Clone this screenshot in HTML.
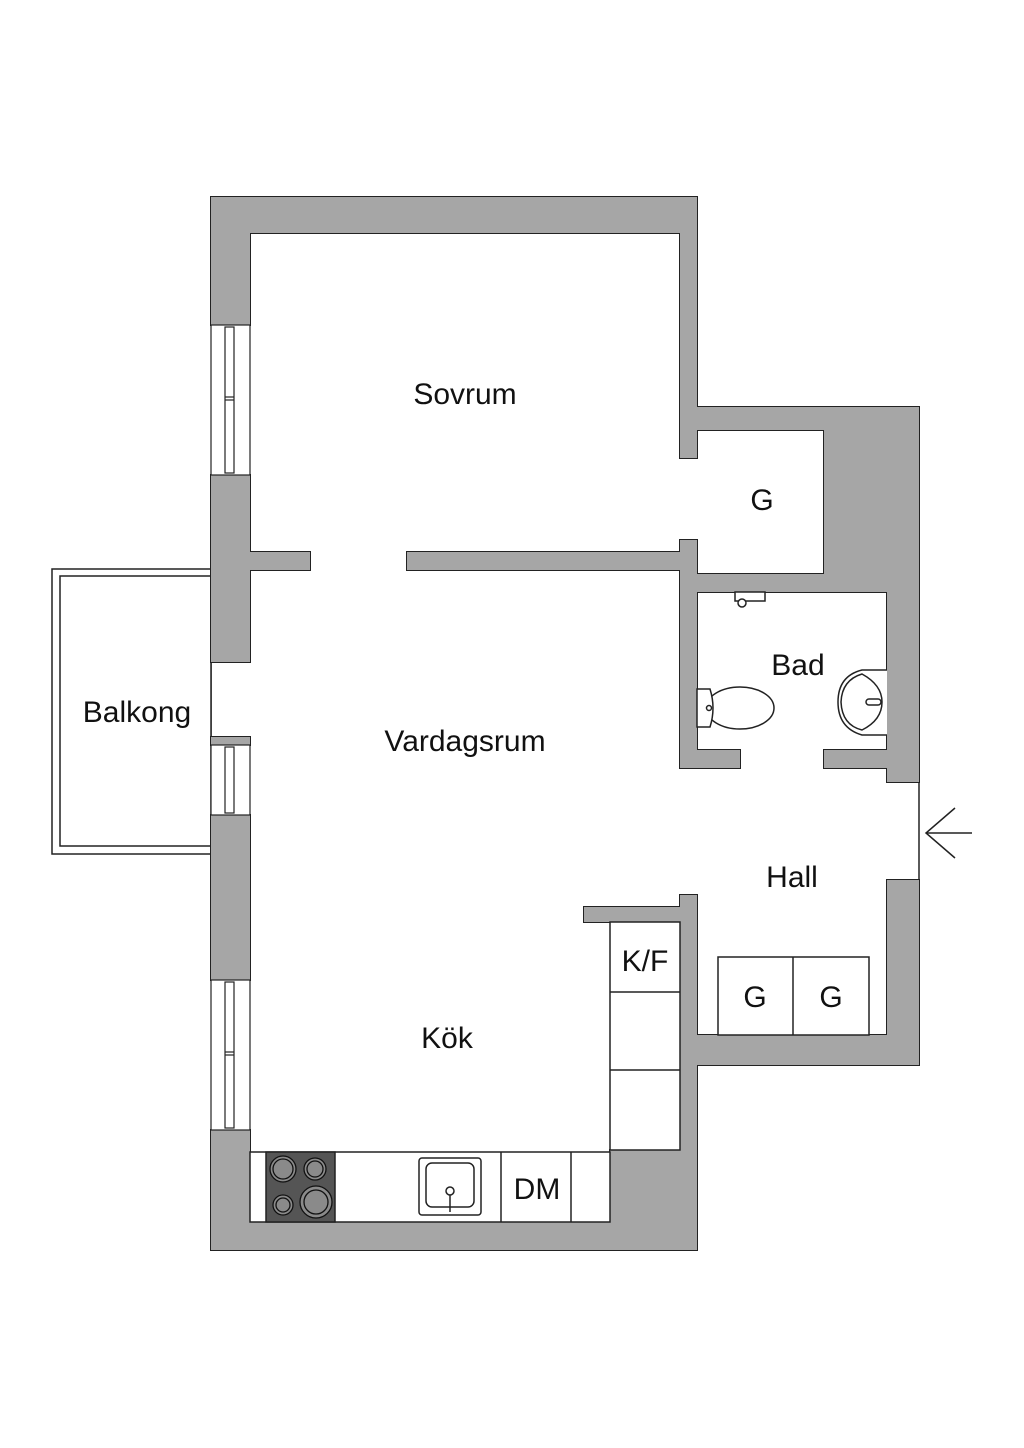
<!DOCTYPE html>
<html><head><meta charset="utf-8"><style>
html,body{margin:0;padding:0;background:#fff;}
svg{display:block;}
text{font-family:"Liberation Sans",sans-serif;font-size:30px;fill:#111;text-anchor:middle;}
</style></head><body>
<svg width="1024" height="1448" viewBox="0 0 1024 1448" xmlns="http://www.w3.org/2000/svg">
<rect width="1024" height="1448" fill="#fff"/>
<rect x="52" y="569" width="159" height="285" fill="#fff" stroke="#222" stroke-width="1.5"/>
<rect x="60" y="576" width="151" height="270" fill="#fff" stroke="#222" stroke-width="1.5"/>
<g id="walls">
<rect x="211" y="197" width="486" height="36"/>
<rect x="211" y="197" width="39" height="128"/>
<rect x="211" y="475" width="39" height="187"/>
<rect x="211" y="737" width="39" height="8"/>
<rect x="211" y="815" width="39" height="165"/>
<rect x="211" y="1130" width="39" height="120"/>
<rect x="250" y="552" width="60" height="18"/>
<rect x="407" y="552" width="273" height="18"/>
<rect x="680" y="197" width="17" height="261"/>
<rect x="680" y="407" width="239" height="23"/>
<rect x="824" y="407" width="95" height="185"/>
<rect x="887" y="407" width="32" height="375"/>
<rect x="680" y="574" width="207" height="18"/>
<rect x="680" y="540" width="17" height="228"/>
<rect x="680" y="750" width="60" height="18"/>
<rect x="824" y="750" width="95" height="18"/>
<rect x="887" y="880" width="32" height="185"/>
<rect x="680" y="1035" width="239" height="30"/>
<rect x="680" y="895" width="17" height="355"/>
<rect x="584" y="907" width="113" height="15"/>
<rect x="211" y="1222" width="486" height="28"/>
<rect x="610" y="1150" width="87" height="100"/>
</g>
<use href="#walls" fill="#a6a6a6" stroke="#222" stroke-width="2"/>
<use href="#walls" fill="#a6a6a6"/>
<g fill="#fff" stroke="#222" stroke-width="1.2">
<rect x="211" y="325" width="39" height="150"/>
<rect x="225" y="327" width="9" height="146"/><line x1="225" y1="400" x2="234" y2="400"/><line x1="225" y1="397" x2="234" y2="397"/>
<rect x="211" y="745" width="39" height="70"/>
<rect x="225" y="747" width="9" height="66"/>
<rect x="211" y="980" width="39" height="150"/>
<rect x="225" y="982" width="9" height="146"/><line x1="225" y1="1055" x2="234" y2="1055"/><line x1="225" y1="1052" x2="234" y2="1052"/>
</g>
<line x1="919" y1="782" x2="919" y2="880" stroke="#222" stroke-width="1.5"/>
<g stroke="#222" stroke-width="1.5" fill="none">
<line x1="926" y1="833" x2="972" y2="833"/>
<polyline points="955,808 926,833 955,858"/>
</g>
<g stroke="#222" stroke-width="1.5" fill="#fff">
<rect x="250" y="1152" width="360" height="70"/>
<rect x="610" y="922" width="70" height="228"/>
<line x1="610" y1="992" x2="680" y2="992"/>
<line x1="610" y1="1070" x2="680" y2="1070"/>
<line x1="501" y1="1152" x2="501" y2="1222"/>
<line x1="571" y1="1152" x2="571" y2="1222"/>
<rect x="266" y="1152" width="69" height="70" fill="#555"/>
<g fill="#8a8a8a" stroke="#111" stroke-width="1.3">
<circle cx="283" cy="1169" r="13"/><circle cx="283" cy="1169" r="10"/>
<circle cx="315" cy="1169" r="11"/><circle cx="315" cy="1169" r="8"/>
<circle cx="283" cy="1205" r="10"/><circle cx="283" cy="1205" r="7"/>
<circle cx="316" cy="1202" r="16"/><circle cx="316" cy="1202" r="12"/>
</g>
<rect x="419" y="1158" width="62" height="57" rx="3"/>
<rect x="426" y="1163" width="48" height="44" rx="6"/>
<circle cx="450" cy="1191" r="4"/>
<line x1="450" y1="1195" x2="450" y2="1212"/>
<rect x="718" y="957" width="151" height="78"/>
<line x1="793" y1="957" x2="793" y2="1035"/>
<ellipse cx="740" cy="708" rx="34" ry="21"/>
<path d="M697,689 L710,689 Q716,708 710,727 L697,727 Z"/>
<circle cx="709" cy="708" r="2.5"/>
<path d="M887,670 L862,670 Q838,676 838,702 Q838,728 862,735 L887,735"/>
<path d="M862,674 Q882,685 882,702 Q882,720 862,730 Q842,725 841,702 Q842,680 862,674 Z"/>
<rect x="866" y="699" width="15" height="6" rx="3"/>
<rect x="735" y="592" width="30" height="9"/>
<circle cx="742" cy="603" r="4"/>
</g>
<text x="465" y="404">Sovrum</text>
<text x="762" y="510">G</text>
<text x="798" y="675">Bad</text>
<text x="137" y="722">Balkong</text>
<text x="465" y="751">Vardagsrum</text>
<text x="792" y="887">Hall</text>
<text x="645" y="971">K/F</text>
<text x="447" y="1048">Kök</text>
<text x="755" y="1007">G</text>
<text x="831" y="1007">G</text>
<text x="537" y="1199">DM</text>
</svg>
</body></html>
